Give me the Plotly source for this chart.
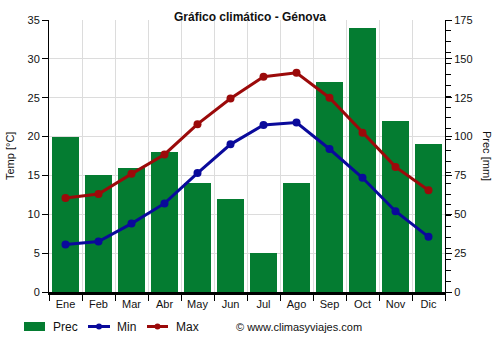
import plotly.graph_objects as go

months = ["Ene", "Feb", "Mar", "Abr", "May", "Jun", "Jul", "Ago", "Sep", "Oct", "Nov", "Dic"]
prec = [100, 75, 80, 90, 70, 60, 25, 70, 135, 170, 110, 95]
tmin = [6.1, 6.5, 8.8, 11.4, 15.3, 19.0, 21.5, 21.8, 18.4, 14.7, 10.4, 7.1]
tmax = [12.1, 12.6, 15.2, 17.7, 21.6, 24.9, 27.7, 28.2, 25.0, 20.5, 16.1, 13.1]

xs = list(range(len(months)))
font = "Liberation Sans, Arial, sans-serif"
c_prec, c_min, c_max = "#047c31", "#0a0a9b", "#9b0a0a"

fig = go.Figure()
fig.add_trace(go.Bar(x=xs, y=prec, name="Prec", marker=dict(color=c_prec, line=dict(width=0)),
                     width=0.79, yaxis="y"))
fig.add_trace(go.Scatter(x=xs, y=tmin, name="Min", mode="lines+markers",
                         line=dict(color=c_min, width=3), marker=dict(size=8, color=c_min),
                         yaxis="y2"))
fig.add_trace(go.Scatter(x=xs, y=tmax, name="Max", mode="lines+markers",
                         line=dict(color=c_max, width=3), marker=dict(size=8, color=c_max),
                         yaxis="y2"))

L, R, T, B = 49, 55, 20, 58
W, H = 500, 350
pw, ph = W - L - R, H - T - B


def px(x):
    return (x - L) / pw


def py(y):
    return (H - B - y) / ph


fig.update_layout(
    width=W, height=H,
    margin=dict(l=L, r=R, t=T, b=B),
    paper_bgcolor="white", plot_bgcolor="white",
    font=dict(family=font, size=11, color="#111"),
    title=dict(text="<b>Gráfico climático - Génova</b>", x=0.5, xanchor="center", y=0.952, yanchor="middle",
               font=dict(size=12, color="#111")),
    bargap=0,
    showlegend=False,
    xaxis=dict(range=[-0.5, 11.5], tickmode="array", tickvals=xs, ticktext=months,
               showgrid=False, ticks="", showline=True, linecolor="black", linewidth=3,
               layer="below traces", zeroline=False, fixedrange=True,
               minor=dict(tickmode="array", tickvals=[i - 0.5 for i in range(13)], showgrid=True,
                          gridcolor="#dcdcdc", gridwidth=1, ticks="outside", ticklen=6,
                          tickcolor="black")),
    yaxis=dict(range=[0, 175], side="right", tickmode="linear", tick0=0, dtick=25,
               showgrid=True, gridcolor="#dcdcdc", gridwidth=1, zeroline=False,
               showline=True, linecolor="black", linewidth=1, ticks="outside", ticklen=6,
               tickcolor="black",
               minor=dict(tickmode="array", tickvals=list(range(0, 176, 7)), ticks="outside",
                          ticklen=5, tickcolor="black", showgrid=False)),
    yaxis2=dict(range=[0, 35], side="left", overlaying="y", tickmode="linear", tick0=0, dtick=5,
                showgrid=False, zeroline=False, showline=True, linecolor="black", linewidth=1,
                ticks="outside", ticklen=6, tickcolor="black"),
)

fig.add_annotation(text="Temp [°C]", textangle=-90, x=px(10), y=0.5, xref="paper", yref="paper",
                   xanchor="center", yanchor="middle", showarrow=False, font=dict(size=11))
fig.add_annotation(text="Prec [mm]", textangle=90, x=px(487), y=0.5, xref="paper", yref="paper",
                   xanchor="center", yanchor="middle", showarrow=False, font=dict(size=11))

# manual legend
ly = 326.5
fig.add_shape(type="rect", xref="paper", yref="paper", x0=px(24), x1=px(45), y0=py(331), y1=py(322),
              fillcolor=c_prec, line=dict(width=0))
fig.add_annotation(text="Prec", x=px(51), y=py(ly), xref="paper", yref="paper", xanchor="left",
                   yanchor="middle", showarrow=False, font=dict(size=12))
for (x0, x1, tx, name, col) in [(88, 110, 115, "Min", c_min), (147, 168, 174, "Max", c_max)]:
    fig.add_shape(type="line", xref="paper", yref="paper", x0=px(x0), x1=px(x1), y0=py(ly), y1=py(ly),
                  line=dict(color=col, width=3))
    cx = (x0 + x1) / 2
    fig.add_shape(type="circle", xref="paper", yref="paper", x0=px(cx - 3), x1=px(cx + 3),
                  y0=py(ly + 3), y1=py(ly - 3), fillcolor=col, line=dict(width=0))
    fig.add_annotation(text=name, x=px(tx), y=py(ly), xref="paper", yref="paper", xanchor="left",
                       yanchor="middle", showarrow=False, font=dict(size=12))

fig.add_annotation(text="© www.climasyviajes.com", x=px(234), y=py(ly), xref="paper", yref="paper",
                   xanchor="left", yanchor="middle", showarrow=False, font=dict(size=11))

fig.write_html("out.html")
